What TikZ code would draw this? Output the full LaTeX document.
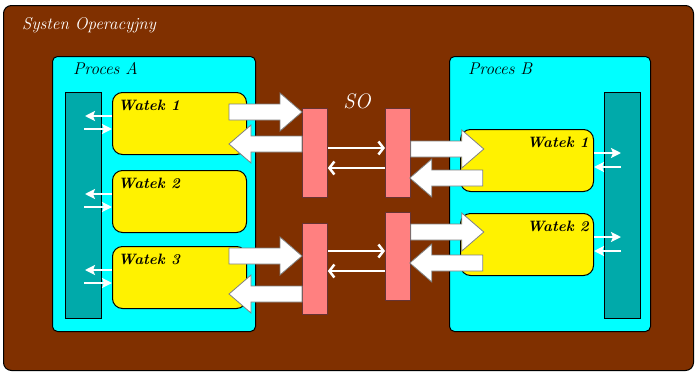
\documentclass[tikz,border=0pt]{standalone}
\usepackage{xcolor}
\usepackage{tikz}
\usetikzlibrary{arrows.meta,calc}

\definecolor{osbrown}{RGB}{128,48,0}
\definecolor{proccyan}{RGB}{0,255,255}
\definecolor{barteal}{RGB}{0,170,170}
\definecolor{sopink}{RGB}{255,128,128}

\begin{document}
\begin{tikzpicture}[x=1pt,y=-1pt,
  box/.style={draw=black,line width=1pt,anchor=north west,inner sep=0pt},
  proc/.style={box,fill=proccyan,rounded corners=5pt,minimum height=275pt},
  bar/.style={box,fill=barteal,line width=0.8pt,minimum width=36pt,minimum height=226pt},
  watek/.style={box,fill=yellow,rounded corners=10pt,minimum height=62pt},
  sobox/.style={box,fill=sopink,line width=0.8pt,draw=black!60!sopink,minimum width=25pt},
  procname/.style={anchor=base west,inner sep=0pt,font=\itshape\fontsize{17}{20}\selectfont},
  wname/.style={inner sep=0pt,font=\bfseries\itshape\fontsize{15}{18}\selectfont},
  thinarrow/.style={white,line width=2.5pt,-{Straight Barb[length=5pt,width=13pt]}},
  smallarrow/.style={white,line width=2pt,-{Stealth[length=10pt,width=10pt,inset=2pt]}},
  blockarrow/.pic={
    \draw[fill=white,draw=gray,line width=0.8pt] (0,-8) -- (51,-8) -- (51,-19)
      -- (73,0) -- (51,19) -- (51,8) -- (0,8) -- cycle;}
]
\useasboundingbox (0,0) rectangle (695,372);

% system
\node[box,fill=osbrown,rounded corners=8pt,minimum width=690pt,minimum height=365pt] (os) at (3,5) {};
\node[anchor=base west,inner sep=0pt,text=white,font=\itshape\fontsize{17}{20}\selectfont] (ostitle) at (22,29) {Systen Operacyjny};

% processes
\node[proc,minimum width=203pt] (procA) at (52,56) {};
\node[procname] (procAname) at (73,74) {Proces A};
\node[proc,minimum width=201pt] (procB) at (449,56) {};
\node[procname] (procBname) at (468,74) {Proces B};

\node[bar] (barA) at (65,92) {};
\node[bar] (barB) at (604,92) {};

% threads A
\foreach \i/\y in {1/92,2/170,3/246} {
  \node[watek,minimum width=134pt] (wA\i) at (112,\y) {};
  \node[wname,anchor=base west] at ($(wA\i.north west)+(6,18)$) {Watek \i};
  \draw[smallarrow] ($(wA\i.north west)+(0,24)$) -- ++(-27,0);
  \draw[smallarrow] ($(wA\i.north west)+(-28,37)$) -- ($(wA\i.north west)+(0,37)$);
}

% threads B
\foreach \i/\y in {1/129,2/213} {
  \node[watek,minimum width=133pt] (wB\i) at (460,\y) {};
  \node[wname,anchor=base east] at ($(wB\i.north east)+(-5,18)$) {Watek \i};
  \draw[smallarrow] ($(wB\i.north east)+(0,24)$) -- ++(27,0);
  \draw[smallarrow] ($(wB\i.north east)+(27,38)$) -- ($(wB\i.north east)+(0,38)$);
}

% SO
\node[sobox,minimum height=89pt] (soA1) at (302,108) {};
\node[sobox,minimum height=89pt] (soB1) at (385,108) {};
\node[sobox,minimum height=91pt] (soA2) at (302,223) {};
\node[sobox,minimum height=88pt] (soB2) at (385,212) {};
\node[anchor=base,inner sep=0pt,text=white,font=\itshape\fontsize{21}{24}\selectfont] (so) at (357,108) {SO};

\pic at ($(soA1.north west)+(-73,4)$) {blockarrow};
\pic[rotate=180] at ($(soA1.north west)+(0,36)$) {blockarrow};
\pic at ($(soA2.north west)+(-73,33)$) {blockarrow};
\pic[rotate=180] at ($(soA2.north west)+(0,71)$) {blockarrow};
\pic at ($(soB1.north east)+(0,41)$) {blockarrow};
\pic[rotate=180] at ($(soB1.north east)+(72,70)$) {blockarrow};
\pic at ($(soB2.north east)+(0,20)$) {blockarrow};
\pic[rotate=180] at ($(soB2.north east)+(72,51)$) {blockarrow};

\draw[thinarrow] (soA1.east |- 0,148) -- (soB1.west |- 0,148);
\draw[thinarrow] (soB1.west |- 0,168) -- (soA1.east |- 0,168);
\draw[thinarrow] (soA2.east |- 0,251) -- (soB2.west |- 0,251);
\draw[thinarrow] (soB2.west |- 0,271) -- (soA2.east |- 0,271);
\end{tikzpicture}
\end{document}
